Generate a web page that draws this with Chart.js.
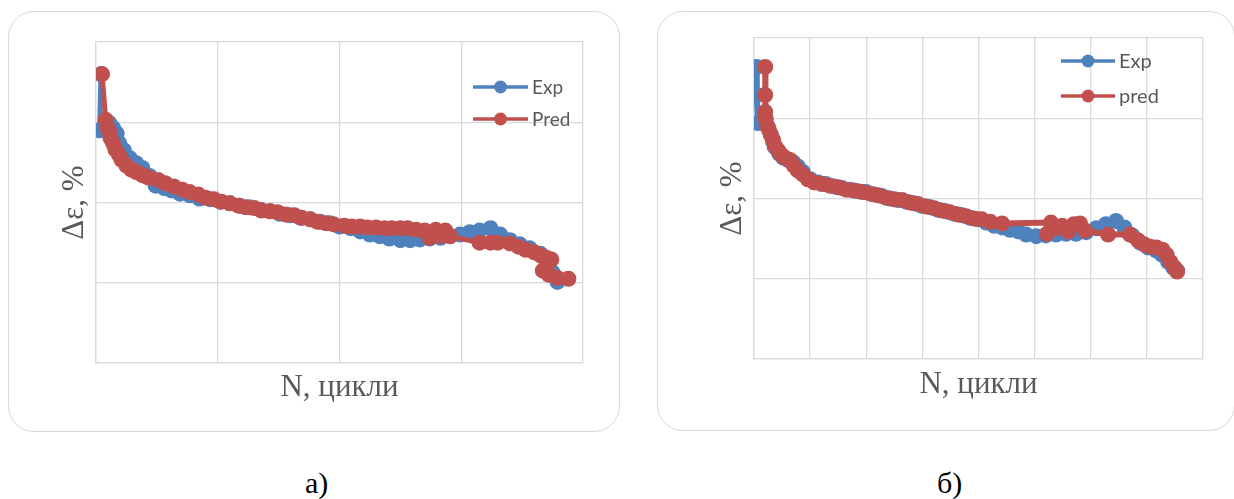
<!DOCTYPE html>
<html>
<head>
<meta charset="utf-8">
<script src="https://cdn.jsdelivr.net/npm/chart.js@4.4.1/dist/chart.umd.min.js"></script>
<style>
    body { margin: 0; background: #fff; width: 1234px; height: 499px; position: relative; overflow: hidden; }
    .box { position: absolute; box-sizing: border-box; border: 1.3px solid #d9d9d9; border-radius: 26px; }
    canvas { position: absolute; }
    .cap { position: absolute; font-family: 'Liberation Serif', serif; font-size: 30px; line-height: 30px; color: #000; }
</style>
</head>
<body>
<div class="box" style="left:8px;top:11px;width:612px;height:421px"></div>
<canvas id="graficoA" width="612" height="421" style="left:8px;top:11px"></canvas>
<div class="box" style="left:657px;top:11px;width:578px;height:420px"></div>
<canvas id="graficoB" width="578" height="420" style="left:657px;top:11px"></canvas>
<div class="cap" style="left:305px;top:468px">а)</div>
<div class="cap" style="left:937px;top:468px">б)</div>
<script>
// Дані графіка а)
const expN_a = [0.4, 0.3, 0.7, 1.1, 1.4, 1.7, 1.9, 2.3, 2.8, 3.3, 3.8, 4.4, 4.9, 5.6, 6.2, 6.9, 7.7, 8.5, 9.4, 10.2,
    11.0, 11.8, 12.6, 13.5, 14.3, 15.1, 15.9, 16.8, 17.6, 18.4, 19.2, 20.0, 20.9, 21.7, 22.5, 23.3, 24.1, 25.0, 25.8, 26.6,
    27.4, 28.3, 29.1, 29.9, 30.7, 31.5, 32.4, 33.2, 34.0, 34.8, 35.6, 36.5, 37.1, 37.5, 37.9];
const expDe_a = [3.60, 2.90, 2.96, 2.99, 2.93, 2.86, 2.74, 2.65, 2.55, 2.49, 2.43, 2.33, 2.21, 2.18, 2.15, 2.11, 2.09, 2.05, 2.04, 2.01,
    1.99, 1.96, 1.94, 1.91, 1.89, 1.86, 1.84, 1.81, 1.79, 1.76, 1.74, 1.70, 1.68, 1.64, 1.60, 1.58, 1.55, 1.53, 1.53, 1.54,
    1.55, 1.56, 1.58, 1.60, 1.63, 1.65, 1.68, 1.60, 1.53, 1.48, 1.43, 1.36, 1.24, 1.13, 1.01];
const predN_a = [0.5, 0.8, 0.9, 1.1, 1.2, 1.4, 1.6, 1.9, 2.1, 2.5, 2.9, 3.3, 3.8, 4.3, 5.1, 5.7, 6.4, 7.1, 7.7, 8.4,
    9.0, 9.7, 10.3, 11.0, 11.7, 12.3, 13.0, 13.6, 14.3, 14.9, 15.6, 16.3, 16.9, 17.6, 18.2, 18.9, 19.5, 20.4, 21.0, 21.7,
    22.3, 23.0, 23.7, 24.3, 25.0, 25.6, 26.3, 27.0, 27.4, 27.9, 28.3, 28.7, 29.1, 31.5, 32.4, 33.0, 34.0, 34.7, 35.3, 36.0,
    36.5, 37.0, 37.4, 37.0, 36.7, 37.2, 37.9, 38.8];
const predDe_a = [3.60, 3.03, 2.95, 2.88, 2.80, 2.74, 2.66, 2.59, 2.53, 2.46, 2.41, 2.38, 2.34, 2.31, 2.28, 2.24, 2.20, 2.16, 2.13, 2.10,
    2.06, 2.04, 2.01, 1.99, 1.96, 1.94, 1.93, 1.90, 1.89, 1.88, 1.85, 1.84, 1.81, 1.79, 1.76, 1.74, 1.73, 1.71, 1.70, 1.70,
    1.69, 1.69, 1.68, 1.68, 1.68, 1.68, 1.66, 1.65, 1.56, 1.66, 1.58, 1.65, 1.58, 1.50, 1.50, 1.50, 1.49, 1.45, 1.41, 1.38,
    1.34, 1.31, 1.29, 1.21, 1.15, 1.10, 1.06, 1.05];

// Дані графіка б)
const expN_b = [0.5, 0.5, 0.7, 2.0, 2.5, 3.0, 3.4, 3.7, 4.5, 5.2, 6.1, 7.0, 7.8, 8.7, 10.0, 11.4, 12.8, 14.3, 15.7, 17.1,
    18.5, 20.0, 21.4, 22.8, 24.2, 25.7, 27.1, 28.5, 29.9, 31.4, 32.8, 34.2, 35.7, 37.1, 38.5, 39.9, 41.4, 42.8, 44.2, 45.6,
    47.1, 48.5, 50.3, 52.0, 53.8, 55.6, 57.4, 59.2, 61.0, 62.7, 64.5, 66.0, 67.4, 68.8, 70.2, 71.7, 72.7, 73.8, 74.7, 75.4];
const expDe_b = [3.64, 3.29, 2.94, 3.01, 2.89, 2.80, 2.71, 2.64, 2.56, 2.51, 2.48, 2.45, 2.40, 2.33, 2.24, 2.20, 2.18, 2.15, 2.13, 2.11,
    2.09, 2.08, 2.05, 2.03, 2.00, 1.98, 1.96, 1.94, 1.91, 1.89, 1.86, 1.84, 1.81, 1.79, 1.76, 1.74, 1.70, 1.66, 1.64, 1.61,
    1.59, 1.55, 1.53, 1.54, 1.55, 1.56, 1.56, 1.58, 1.63, 1.68, 1.72, 1.64, 1.54, 1.45, 1.39, 1.35, 1.30, 1.21, 1.14, 1.10];
const predN_b = [2.0, 2.0, 2.0, 2.1, 2.3, 2.7, 3.0, 3.4, 3.7, 4.3, 4.8, 5.5, 6.4, 7.1, 7.8, 8.7, 9.6, 10.7, 12.1, 13.5,
    15.0, 16.4, 17.8, 19.3, 20.7, 22.1, 23.5, 25.0, 26.4, 27.8, 29.2, 30.7, 32.1, 33.5, 34.9, 36.4, 37.8, 39.2, 40.6, 42.1,
    44.2, 52.9, 52.2, 53.8, 54.9, 56.0, 57.0, 58.1, 59.0, 63.1, 67.0, 68.4, 69.5, 70.6, 71.7, 72.8, 73.5, 74.2, 74.9, 75.4];
const predDe_b = [3.64, 3.29, 3.08, 2.99, 2.91, 2.85, 2.79, 2.73, 2.66, 2.60, 2.55, 2.51, 2.48, 2.41, 2.35, 2.30, 2.24, 2.20, 2.18, 2.16,
    2.14, 2.11, 2.10, 2.08, 2.06, 2.04, 2.01, 1.99, 1.98, 1.95, 1.93, 1.90, 1.88, 1.85, 1.83, 1.80, 1.78, 1.75, 1.74, 1.71,
    1.69, 1.70, 1.56, 1.63, 1.66, 1.59, 1.68, 1.69, 1.60, 1.55, 1.55, 1.48, 1.43, 1.40, 1.39, 1.36, 1.30, 1.21, 1.14, 1.09];

const AZUL = '#4f81bd';
const VERMELHO = '#c0504d';
const GRELHA = '#d9d9d9';

function pontos(xs, ys) {
    return xs.map((x, i) => ({ x: x, y: ys[i] }));
}

// Легенда всередині області графіка
const legendaInterna = {
    id: 'legendaInterna',
    afterDatasetsDraw(chart, args, o) {
        const { ctx, chartArea } = chart;
        ctx.save();
        chart.data.datasets.forEach((ds, i) => {
            const x = chartArea.left + o.x;
            const y = chartArea.top + o.y + i * o.gap;
            ctx.strokeStyle = ds.borderColor;
            ctx.lineWidth = 3.5;
            ctx.beginPath();
            ctx.moveTo(x, y);
            ctx.lineTo(x + o.len, y);
            ctx.stroke();
            ctx.fillStyle = ds.borderColor;
            ctx.beginPath();
            ctx.arc(x + o.len / 2, y, 6.5, 0, Math.PI * 2);
            ctx.fill();
            ctx.fillStyle = '#595959';
            ctx.font = o.size + 'px Lato';
            ctx.textBaseline = 'middle';
            ctx.fillText(ds.label, x + o.len + 4, y + 1);
        });
        ctx.restore();
    }
};

function criarGrafico(id, cfg) {
    const titulo = { family: 'Liberation Serif', size: 31 };
    return new Chart(document.getElementById(id).getContext('2d'), {
        type: 'scatter',
        data: {
            datasets: [{
                label: 'Exp',
                data: pontos(cfg.expN, cfg.expDe),
                borderColor: AZUL,
                backgroundColor: AZUL,
                showLine: true,
                borderWidth: cfg.lw,
                pointRadius: cfg.r,
                pointBorderWidth: 0,
                order: 1
            }, {
                label: cfg.predLabel,
                data: pontos(cfg.predN, cfg.predDe),
                borderColor: VERMELHO,
                backgroundColor: VERMELHO,
                showLine: true,
                borderWidth: cfg.lw,
                pointRadius: cfg.r,
                pointBorderWidth: 0,
                order: 0
            }]
        },
        options: {
            responsive: false,
            animation: false,
            devicePixelRatio: 1,
            layout: { padding: cfg.padding },
            plugins: {
                legend: { display: false },
                tooltip: { enabled: false },
                legendaInterna: cfg.legenda
            },
            scales: {
                x: {
                    type: 'linear',
                    min: 0, max: cfg.xMax,
                    ticks: { display: false, stepSize: 10 },
                    grid: { color: GRELHA, lineWidth: 1.3, drawTicks: false },
                    border: { color: GRELHA, width: 1.3 },
                    title: { display: true, text: 'N, цикли', color: '#595959', font: titulo, padding: { top: cfg.xTitlePad, bottom: 0 } }
                },
                y: {
                    min: 0, max: 4,
                    ticks: { display: false, stepSize: 1 },
                    grid: { color: GRELHA, lineWidth: 1.3, drawTicks: false },
                    border: { color: GRELHA, width: 1.3 },
                    title: { display: true, text: 'Δε, %', color: '#595959', font: titulo, padding: { top: cfg.yTitlePad, bottom: 2.4 } }
                }
            }
        },
        plugins: [legendaInterna]
    });
}

document.addEventListener('DOMContentLoaded', function () {
    criarGrafico('graficoA', {
        expN: expN_a, expDe: expDe_a, predN: predN_a, predDe: predDe_a,
        predLabel: 'Pred', xMax: 40, r: 8, lw: 5,
        padding: { left: 0, top: 31, right: 37, bottom: 25.4 },
        xTitlePad: 6.4, yTitlePad: 48.4,
        legenda: { x: 377, y: 45, gap: 32, len: 55, size: 19 }
    });
    criarGrafico('graficoB', {
        expN: expN_b, expDe: expDe_b, predN: predN_b, predDe: predDe_b,
        predLabel: 'pred', xMax: 80, r: 8, lw: 6,
        padding: { left: 0, top: 27, right: 32, bottom: 27.4 },
        xTitlePad: 7.4, yTitlePad: 57.4,
        legenda: { x: 307, y: 23, gap: 35, len: 54, size: 20 }
    });
});
</script>
</body>
</html>
